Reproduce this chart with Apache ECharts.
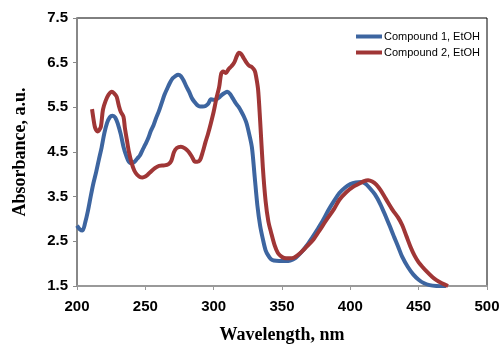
<!DOCTYPE html>
<html>
<head>
<meta charset="utf-8">
<script src="https://cdn.jsdelivr.net/npm/echarts@6/dist/echarts.min.js"></script>
<style>html,body{margin:0;padding:0;background:#fff}#c{width:501px;height:346px}</style>
</head>
<body>
<div id="c"></div>
<script>
var seriesNames = ['Compound 1, EtOH', 'Compound 2, EtOH'];
var xTicks = [200, 250, 300, 350, 400, 450, 500];
var yTicks = [1.5, 2.5, 3.5, 4.5, 5.5, 6.5, 7.5];

var wl1 = [200,202,204,206,208,210,212,214,216,218,220,222,224,226,228,230,232,234,236,238,240,242,244,246,248,250,252,254,256,258,260,262,264,266,268,270,272,274,276,278,280,282,284,286,288,290,292,294,296,298,300,302,304,306,308,310,312,314,316,318,320,322,324,326,328,330,332,334,336,338,340,342,344,348,352,356,360,364,368,372,376,380,384,388,392,396,400,404,408,411,414,418,422,426,429,432,435,438,442,446,450,454,458,463,470];
var abs1 = [2.85,2.77,2.74,2.92,3.18,3.5,3.8,4.05,4.33,4.6,4.92,5.15,5.28,5.31,5.27,5.12,4.9,4.62,4.42,4.28,4.25,4.28,4.35,4.42,4.55,4.67,4.8,4.97,5.1,5.27,5.42,5.6,5.78,5.92,6.05,6.15,6.2,6.23,6.2,6.1,5.97,5.85,5.71,5.62,5.55,5.52,5.52,5.53,5.58,5.68,5.67,5.68,5.72,5.78,5.82,5.85,5.8,5.7,5.6,5.52,5.42,5.3,5.15,4.9,4.6,3.95,3.3,2.85,2.55,2.3,2.18,2.1,2.07,2.06,2.06,2.07,2.13,2.25,2.4,2.58,2.77,2.97,3.2,3.4,3.58,3.7,3.78,3.82,3.83,3.79,3.7,3.55,3.33,3.05,2.83,2.6,2.38,2.15,1.93,1.76,1.64,1.56,1.52,1.5,1.49];

var wl2 = [211,212,213,214,215,216,217.5,219,221,223,225.5,227,229,230.5,232,234,235,236.5,238,240,242,244,246,248,250,252,254,257,260,264,267,269,271,273,276,279,281.5,284,286,288,290,292,294,296,298,300,302,304,305.5,307,309,311,313,315,317,318.5,320,322,324,326,328,330,331,332.5,334,336,338,340,342,344.5,347,350,353,356,359,363,368,373,378,383,388,392,397,402,407,410,413,416,419,422,426,431,435,438,441,444,447,450,453,456,460,463,467,471.5];
var abs2 = [5.46,5.25,5.07,4.99,4.96,4.98,5.07,5.45,5.65,5.78,5.85,5.82,5.74,5.55,5.4,5.29,5.05,4.77,4.5,4.25,4.08,3.99,3.94,3.93,3.95,4.0,4.06,4.14,4.19,4.2,4.23,4.3,4.5,4.59,4.62,4.58,4.51,4.4,4.29,4.28,4.32,4.5,4.72,4.92,5.15,5.4,5.7,5.95,6.25,6.3,6.27,6.36,6.42,6.5,6.65,6.72,6.7,6.6,6.5,6.43,6.4,6.32,6.2,5.9,5.2,4.15,3.4,2.95,2.7,2.42,2.24,2.15,2.12,2.12,2.14,2.23,2.38,2.54,2.77,3.0,3.22,3.43,3.6,3.72,3.8,3.85,3.87,3.84,3.77,3.65,3.45,3.2,3.03,2.86,2.62,2.38,2.18,2.03,1.92,1.82,1.7,1.63,1.56,1.5];

function pairs(xs, ys) { return xs.map(function (x, i) { return [x, ys[i]]; }); }

var chart = echarts.init(document.getElementById('c'), null, {renderer: 'canvas'});
chart.setOption({
  animation: false,
  backgroundColor: '#fff',
  grid: {left: 77, right: 14, top: 18, bottom: 60, show: true, borderColor: '#000', borderWidth: 1,
         backgroundColor: 'transparent', containLabel: false, outerBoundsMode: 'none'},
  legend: {
    orient: 'vertical', right: 16, top: 26, itemWidth: 26, itemHeight: 4, itemGap: 5,
    icon: 'rect',
    data: seriesNames,
    textStyle: {fontFamily: 'Liberation Sans, Arial', fontSize: 11, color: '#000', padding: [0, 0, 0, -3]}
  },
  xAxis: {
    type: 'value', min: xTicks[0], max: xTicks[xTicks.length - 1], interval: 50,
    name: 'Wavelength, nm', nameLocation: 'middle', nameGap: 40,
    nameTextStyle: {fontFamily: 'Liberation Serif, Times New Roman', fontWeight: 'bold', fontSize: 18, color: '#000'},
    axisLine: {show: true, lineStyle: {color: '#999', width: 2}},
    axisTick: {show: true, length: 4, lineStyle: {color: '#999', width: 1}},
    axisLabel: {margin: 13, fontFamily: 'Liberation Sans, Arial', fontWeight: 'bold', fontSize: 15, color: '#000'},
    splitLine: {show: false}
  },
  yAxis: {
    type: 'value', min: yTicks[0], max: yTicks[yTicks.length - 1], interval: 1,
    name: 'Absorbance, a.u.', nameLocation: 'middle', nameGap: 48,
    nameTextStyle: {fontFamily: 'Liberation Serif, Times New Roman', fontWeight: 'bold', fontSize: 18, color: '#000'},
    axisLine: {show: true, lineStyle: {color: '#888', width: 2}},
    axisTick: {show: true, length: 4, lineStyle: {color: '#888', width: 1}},
    axisLabel: {margin: 9, fontFamily: 'Liberation Sans, Arial', fontWeight: 'bold', fontSize: 15, color: '#000',
      formatter: function (v) { return v.toFixed(1); }},
    splitLine: {show: false}
  },
  series: [
    {name: seriesNames[0], type: 'line', data: pairs(wl1, abs1), smooth: 0.3, showSymbol: false,
     lineStyle: {color: '#3d65a0', width: 4}, itemStyle: {color: '#3d65a0'}},
    {name: seriesNames[1], type: 'line', data: pairs(wl2, abs2), smooth: 0.3, showSymbol: false,
     lineStyle: {color: '#a03636', width: 4}, itemStyle: {color: '#a03636'}}
  ]
});
</script>
</body>
</html>
